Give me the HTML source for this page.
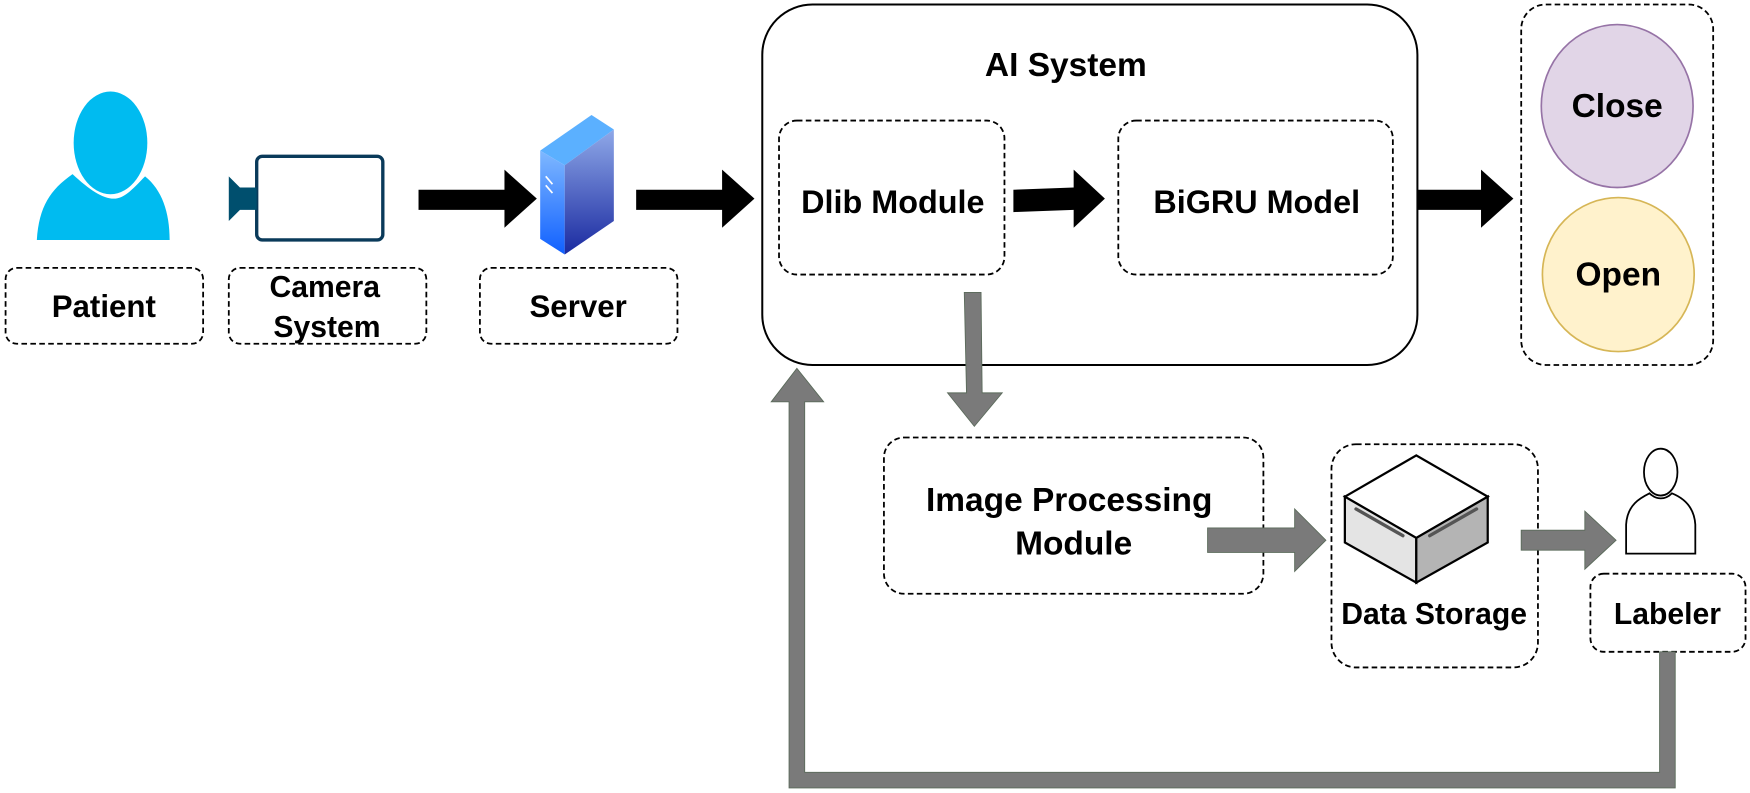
<!DOCTYPE html>
<html><head><meta charset="utf-8"><style>
html,body{margin:0;padding:0;background:#fff;}
svg{display:block;}
text{font-family:"Liberation Sans",Arial,sans-serif;font-weight:bold;fill:#000;text-anchor:middle;}
</style></head><body>
<svg width="1750" height="793" viewBox="0 0 1568 710.5" xmlns="http://www.w3.org/2000/svg">
<defs>
<linearGradient id="sv" x1="0" y1="0" x2="0" y2="1"><stop offset="0" stop-color="#7fb8ff"/><stop offset="1" stop-color="#1060ff"/></linearGradient>
<linearGradient id="sv2" x1="0" y1="0" x2="0" y2="1"><stop offset="0" stop-color="#8fa8e8"/><stop offset="1" stop-color="#1a2aa0"/></linearGradient>
</defs>
<!-- Patient -->
<ellipse cx="99" cy="128" rx="33" ry="46" fill="#00bbf0"/>
<path d="M33,215 C35,185 45,170 65,156 C80,170 92,178 102,178 C112,178 120,168 130,158 C145,170 152,190 152,215 Z" fill="#00bbf0"/>
<!-- Camera -->
<rect x="230" y="140" width="113" height="75" rx="5" fill="#fff" stroke="#0a3a5a" stroke-width="3"/>
<path d="M205,158 L215,168 L230,168 L230,188 L215,188 L205,198 Z" fill="#004f6e"/>
<!-- Server -->
<path d="M484,135 L530,103 L550,116 L506,148 Z" fill="#5bb0ff"/>
<path d="M484,135 L506,148 L506,228 L484,214 Z" fill="url(#sv)"/>
<path d="M506,148 L550,116 L550,198 L506,228 Z" fill="url(#sv2)"/>
<line x1="489" y1="158" x2="495" y2="165" stroke="#fff" stroke-width="1.5"/>
<line x1="489" y1="166" x2="495" y2="173" stroke="#fff" stroke-width="1.5"/>
<!-- black arrows -->
<g fill="#000">
<path d="M375,170 L452,170 L452,152 L481,178 L452,204 L452,188 L375,188 Z"/>
<path d="M570,170 L647,170 L647,152 L676,178 L647,204 L647,188 L570,188 Z"/>
<path d="M908,170 L962,168 L962,152 L990,178 L962,204 L962,188 L908,190 Z"/>
<path d="M1270,170 L1327,170 L1327,152 L1356,178 L1327,204 L1327,188 L1270,188 Z"/>
</g>
<!-- dashed label boxes -->
<g fill="none" stroke="#000" stroke-width="1.6" stroke-dasharray="5,3">
<rect x="5" y="240" width="177" height="68" rx="10"/>
<rect x="205" y="240" width="177" height="68" rx="10"/>
<rect x="430" y="240" width="177" height="68" rx="10"/>
<rect x="698" y="108" width="202" height="138" rx="16"/>
<rect x="1002" y="108" width="246" height="138" rx="16"/>
<rect x="1363" y="4" width="172" height="323" rx="22"/>
<rect x="792" y="392" width="340" height="140" rx="18"/>
<rect x="1193" y="398" width="185" height="200" rx="22"/>
<rect x="1425" y="514" width="139" height="70" rx="12"/>
</g>
<text x="93" y="284" font-size="28">Patient</text>
<text x="291" y="266" font-size="27">Camera</text>
<text x="293" y="302" font-size="27">System</text>
<text x="518" y="284" font-size="28">Server</text>
<!-- AI system -->
<rect x="683" y="4" width="587" height="323" rx="45" fill="none" stroke="#000" stroke-width="1.8"/>
<text x="955" y="68" font-size="30">AI System</text>
<text x="800" y="191" font-size="29">Dlib Module</text>
<text x="1126" y="191" font-size="29">BiGRU Model</text>
<!-- circles -->
<ellipse cx="1449" cy="95" rx="68" ry="73" fill="#e1d5e7" stroke="#9673a6" stroke-width="1.5"/>
<ellipse cx="1450" cy="246" rx="68" ry="69" fill="#fff2cc" stroke="#d6b656" stroke-width="1.5"/>
<text x="1449" y="105" font-size="30">Close</text>
<text x="1450" y="256" font-size="30">Open</text>
<!-- grey arrows -->
<g fill="#7a7a7a" stroke="#5a6a5a" stroke-width="0.8">
<path d="M864,262 L879,262 L880,352 L898,352 L873,382 L849,352 L866,352 Z"/>
<path d="M1082,473 L1160,473 L1160,456 L1188,484 L1160,512 L1160,495 L1082,495 Z"/>
<path d="M1363,475 L1420,475 L1420,458 L1448,484 L1420,510 L1420,493 L1363,493 Z"/>
<path d="M1487,584 L1501,584 L1501,706 L707,706 L707,360 L691,360 L714,330 L738,360 L721,360 L721,692 L1487,692 Z"/>
</g>
<text x="958" y="458" font-size="30">Image Processing</text>
<text x="962" y="497" font-size="30">Module</text>
<!-- storage box -->
<path d="M1205,445 L1269,408 L1333,445 L1269,482 Z" fill="#fff" stroke="#000" stroke-width="2"/>
<path d="M1205,445 L1269,482 L1269,522 L1205,486 Z" fill="#e4e4e4" stroke="#000" stroke-width="2"/>
<path d="M1269,482 L1333,445 L1333,486 L1269,522 Z" fill="#b4b4b4" stroke="#000" stroke-width="2"/>
<line x1="1215" y1="456" x2="1257" y2="480" stroke="#555" stroke-width="3" stroke-linecap="round"/>
<line x1="1281" y1="480" x2="1323" y2="456" stroke="#555" stroke-width="3" stroke-linecap="round"/>
<text x="1285" y="559" font-size="27">Data Storage</text>
<!-- labeler -->
<ellipse cx="1488" cy="423" rx="15" ry="21" fill="#fff" stroke="#000" stroke-width="1.6"/>
<path d="M1457,496 L1457,470 C1458,452 1470,446 1478,442 C1484,448 1492,448 1498,442 C1508,446 1518,454 1519,470 L1519,496 Z" fill="#fff" stroke="#000" stroke-width="1.6"/>
<text x="1494" y="559" font-size="27">Labeler</text>
</svg>
</body></html>
